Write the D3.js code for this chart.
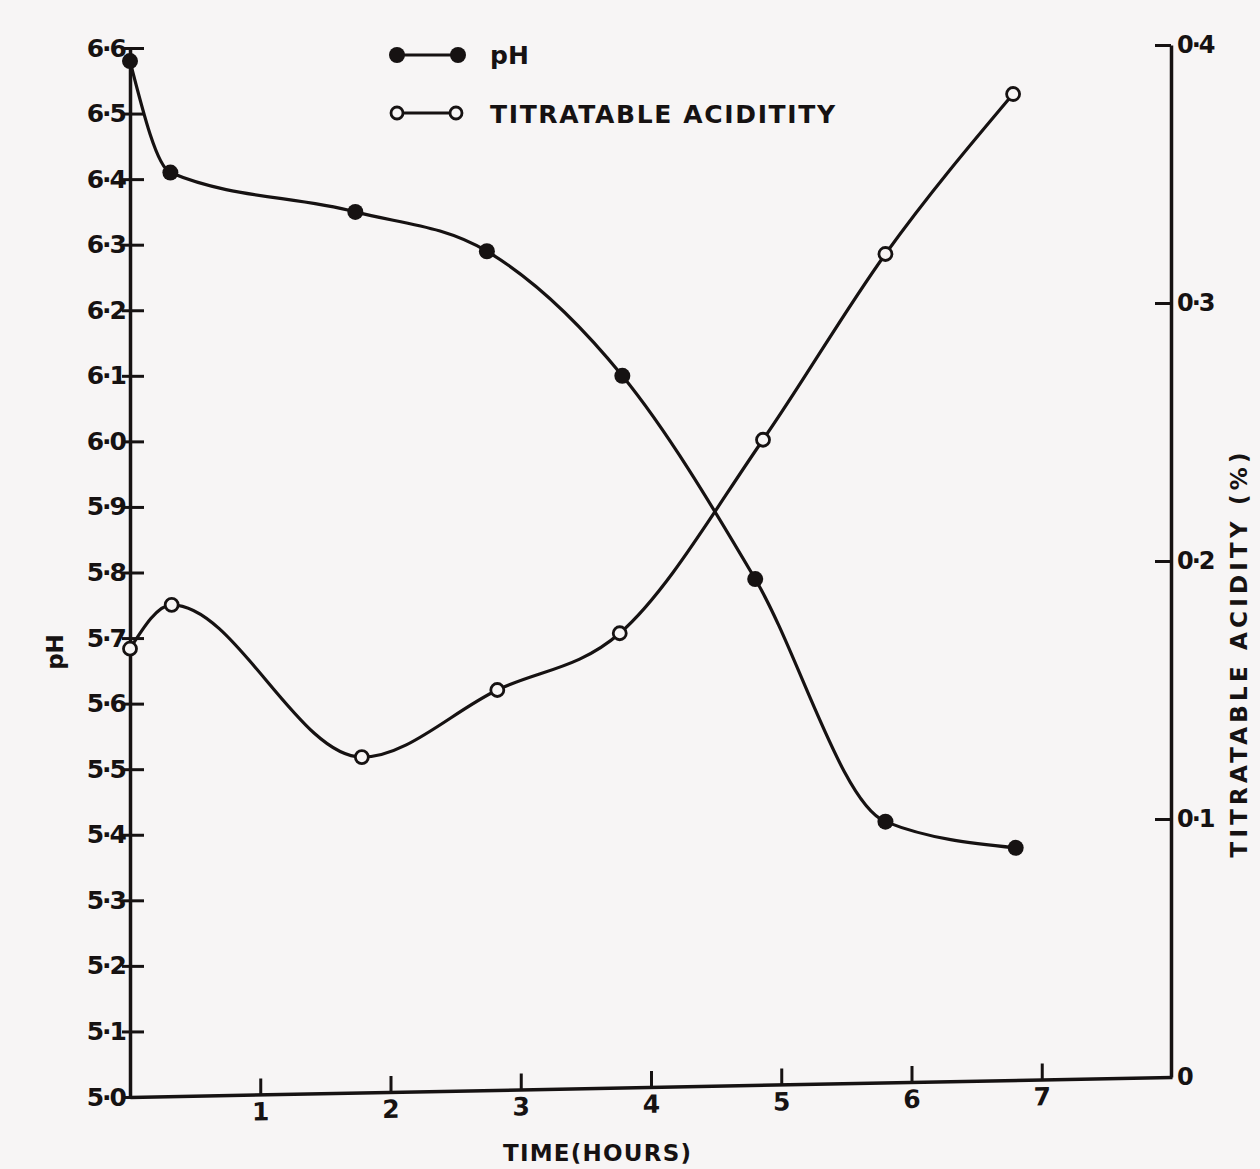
<!DOCTYPE html>
<html>
<head>
<meta charset="utf-8">
<script src="https://cdn.jsdelivr.net/npm/d3@7"></script>
<style>
html,body{margin:0;padding:0;background:#f7f5f5;}
svg{display:block;}
text{font-family:"DejaVu Sans","Liberation Sans",sans-serif;font-weight:bold;fill:#161212;}
</style>
</head>
<body>
<script>
// Data
const timeHours = [0, 0.31, 1.73, 2.74, 3.78, 4.80, 5.80, 6.80];
const phValues  = [6.58, 6.41, 6.35, 6.29, 6.10, 5.79, 5.42, 5.38];
const taTime    = [0, 0.32, 1.78, 2.82, 3.76, 4.86, 5.80, 6.78];
const taValues  = [0.166, 0.183, 0.124, 0.150, 0.172, 0.247, 0.319, 0.381];
const phTicks   = [5.0,5.1,5.2,5.3,5.4,5.5,5.6,5.7,5.8,5.9,6.0,6.1,6.2,6.3,6.4,6.5,6.6];
const taTicks   = [0, 0.1, 0.2, 0.3, 0.4];
const timeTicks = [1,2,3,4,5,6,7];

const W = 1260, H = 1169;
const ink = "#161212";
const svg = d3.select("body").append("svg").attr("width", W).attr("height", H);
svg.append("rect").attr("width", W).attr("height", H).attr("fill", "#f7f5f5");

const x = d3.scaleLinear().domain([0, 8]).range([130, 1172]);
const yL = d3.scaleLinear().domain([5.0, 6.6]).range([1097, 48]);
const yR = d3.scaleLinear().domain([0, 0.4]).range([1077, 45]);

const fmt = v => d3.format(".1f")(v).replace(".", "·");

// Left axis
const gL = svg.append("g").attr("transform", "translate(130,0)")
  .call(d3.axisLeft(yL).tickValues(phTicks).tickFormat(fmt).tickSize(0).tickPadding(5));
gL.select(".domain").attr("stroke", ink).attr("stroke-width", 3.5);
gL.selectAll(".tick text").attr("font-size", 25).attr("font-family", "DejaVu Sans").attr("font-weight", "bold").attr("fill", ink).attr("letter-spacing", -2);
gL.selectAll(".tick").append("line").attr("x1", -8).attr("x2", 14).attr("stroke", ink).attr("stroke-width", 3);

// Right axis
const gR = svg.append("g").attr("transform", "translate(1171,0)")
  .call(d3.axisRight(yR).tickValues(taTicks).tickFormat(d => d === 0 ? "0" : fmt(d)).tickSize(0).tickPadding(6));
gR.select(".domain").attr("stroke", ink).attr("stroke-width", 3.5);
gR.selectAll(".tick text").attr("font-size", 24).attr("font-family", "DejaVu Sans").attr("font-weight", "bold").attr("fill", ink).attr("letter-spacing", -2);
gR.selectAll(".tick").filter(d => d !== 0).append("line").attr("x1", -16).attr("x2", 0).attr("stroke", ink).attr("stroke-width", 3);

// Bottom axis (scan is slightly tilted)
const xb = x.copy().range([0, 1042]);
const skew = Math.atan2(-20, 1042) * 180 / Math.PI;
const gB = svg.append("g").attr("transform", `translate(130,1097) skewY(${skew})`)
  .call(d3.axisBottom(xb).tickValues(timeTicks).tickFormat(d3.format("d")).tickSize(0).tickPadding(8));
gB.select(".domain").attr("stroke", ink).attr("stroke-width", 3.5);
gB.selectAll(".tick text").attr("font-size", 25).attr("font-family", "DejaVu Sans").attr("font-weight", "bold").attr("fill", ink);
gB.selectAll(".tick").append("line").attr("y1", 0).attr("y2", -16).attr("stroke", ink).attr("stroke-width", 3);

// Curves
const phData = timeHours.map((t, i) => ({t, v: phValues[i]}));
const taData = taTime.map((t, i) => ({t, v: taValues[i]}));

svg.append("path").datum(phData)
  .attr("d", d3.line().x(d => x(d.t)).y(d => yL(d.v)).curve(d3.curveMonotoneX))
  .attr("fill", "none").attr("stroke", ink).attr("stroke-width", 3.2);
svg.append("path").datum(taData)
  .attr("d", d3.line().x(d => x(d.t)).y(d => yR(d.v)).curve(d3.curveMonotoneX))
  .attr("fill", "none").attr("stroke", ink).attr("stroke-width", 3.2);

svg.selectAll(".ph").data(phData).join("circle")
  .attr("cx", d => x(d.t)).attr("cy", d => yL(d.v)).attr("r", 8).attr("fill", ink);
svg.selectAll(".ta").data(taData).join("circle")
  .attr("cx", d => x(d.t)).attr("cy", d => yR(d.v)).attr("r", 6.5)
  .attr("fill", "#f7f5f5").attr("stroke", ink).attr("stroke-width", 2.8);

// Legend
const lg = svg.append("g");
lg.append("line").attr("x1", 397).attr("x2", 458).attr("y1", 55).attr("y2", 55).attr("stroke", ink).attr("stroke-width", 3);
lg.append("circle").attr("cx", 397).attr("cy", 55).attr("r", 8).attr("fill", ink);
lg.append("circle").attr("cx", 458).attr("cy", 55).attr("r", 8).attr("fill", ink);
lg.append("text").attr("x", 490).attr("y", 64).attr("font-size", 25).text("pH");
lg.append("line").attr("x1", 397).attr("x2", 456).attr("y1", 113).attr("y2", 113).attr("stroke", ink).attr("stroke-width", 3);
lg.append("circle").attr("cx", 397).attr("cy", 113).attr("r", 6).attr("fill", "#f7f5f5").attr("stroke", ink).attr("stroke-width", 2.8);
lg.append("circle").attr("cx", 456).attr("cy", 113).attr("r", 6).attr("fill", "#f7f5f5").attr("stroke", ink).attr("stroke-width", 2.8);
lg.append("text").attr("x", 490).attr("y", 123).attr("font-size", 25).attr("textLength", 345).text("TITRATABLE  ACIDITITY");

// Axis titles
svg.append("text").attr("transform", "translate(63,652) rotate(-90)").attr("text-anchor", "middle")
  .attr("font-size", 23).text("pH");
svg.append("text").attr("transform", "translate(1247,655) rotate(-90)").attr("text-anchor", "middle")
  .attr("font-size", 23).attr("textLength", 405).text("TITRATABLE  ACIDITY (%)");
svg.append("text").attr("x", 597).attr("y", 1161).attr("text-anchor", "middle")
  .attr("font-size", 23).attr("textLength", 188).text("TIME(HOURS)");
</script>
</body>
</html>
